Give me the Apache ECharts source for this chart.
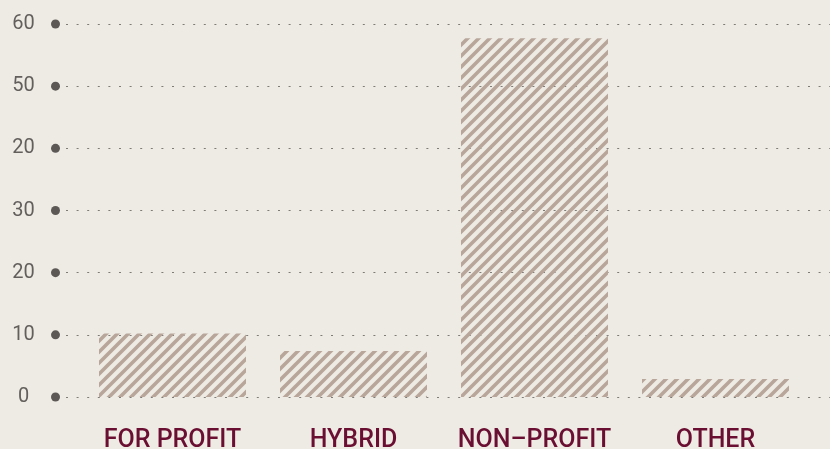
<!DOCTYPE html>
<html>
<head>
<meta charset="utf-8">
<script src="https://cdn.jsdelivr.net/npm/echarts@6/dist/echarts.min.js"></script>
<style>
  html, body { margin: 0; padding: 0; background: #eeebe4; }
  #chart { width: 830px; height: 449px; }
</style>
</head>
<body>
<div id="chart"></div>
<script>
// data
const categories = ['FOR PROFIT', 'HYBRID', 'NON–PROFIT', 'OTHER'];
const values = [10.2, 7.4, 57.7, 2.9];
// tick labels as printed on the original (the 40 line is labelled "20")
const tickLabels = ['0', '10', '20', '30', '20', '50', '60'];

// diagonal hatch used to fill the bars
function makeHatch() {
  const size = 11;
  const c = document.createElement('canvas');
  c.width = size;
  c.height = size;
  const ctx = c.getContext('2d');
  ctx.strokeStyle = '#b9a69a';
  ctx.lineWidth = 3.6;
  ctx.beginPath();
  ctx.moveTo(-2, size + 2); ctx.lineTo(size + 2, -2);
  ctx.moveTo(-2, 2); ctx.lineTo(2, -2);
  ctx.moveTo(size - 2, size + 2); ctx.lineTo(size + 2, size - 2);
  ctx.stroke();
  return c;
}

const myChart = echarts.init(document.getElementById('chart'));
const option = {
  backgroundColor: '#eeebe4',
  animation: false,
  grid: [
    // grid for the dotted lines + y labels
    { left: 66, right: 0, top: 24, bottom: 52, outerBoundsMode: 'none' },
    // grid for the bars
    { left: 82, right: 24, top: 24, bottom: 52, outerBoundsMode: 'none' },
  ],
  xAxis: [
    { gridIndex: 0, type: 'value', show: false, min: 0, max: 1 },
    {
      gridIndex: 1,
      type: 'category',
      data: categories,
      axisLine: { show: false },
      axisTick: { show: false },
      axisLabel: {
        interval: 0,
        margin: 31,
        color: '#6b0f32',
        fontFamily: 'Roboto',
        fontWeight: 500,
        fontSize: 25,
      },
    },
  ],
  yAxis: [
    {
      gridIndex: 0,
      type: 'value',
      min: 0,
      max: 60,
      interval: 10,
      axisLine: { show: false },
      axisTick: { show: false },
      splitLine: {
        show: true,
        lineStyle: { color: '#7f7c78', width: 1, type: [2, 8.6] },
      },
      axisLabel: {
        margin: 6,
        formatter: (v) => '{t|' + tickLabels[Math.round(v / 10)] + '}{g|}{d|}',
        rich: {
          t: { color: '#625f5c', fontFamily: 'Roboto', fontSize: 20, width: 24, align: 'center' },
          g: { width: 15.5 },
          d: {
            width: 9,
            height: 9,
            borderRadius: 4.5,
            backgroundColor: '#5b5856',
          },
        },
      },
    },
    { gridIndex: 1, type: 'value', min: 0, max: 60, show: false },
  ],
  series: [
    {
      type: 'bar',
      xAxisIndex: 1,
      yAxisIndex: 1,
      barWidth: 147,
      data: values,
      itemStyle: {
        color: { image: makeHatch(), repeat: 'repeat' },
      },
    },
  ],
};
myChart.setOption(option);
</script>
</body>
</html>
